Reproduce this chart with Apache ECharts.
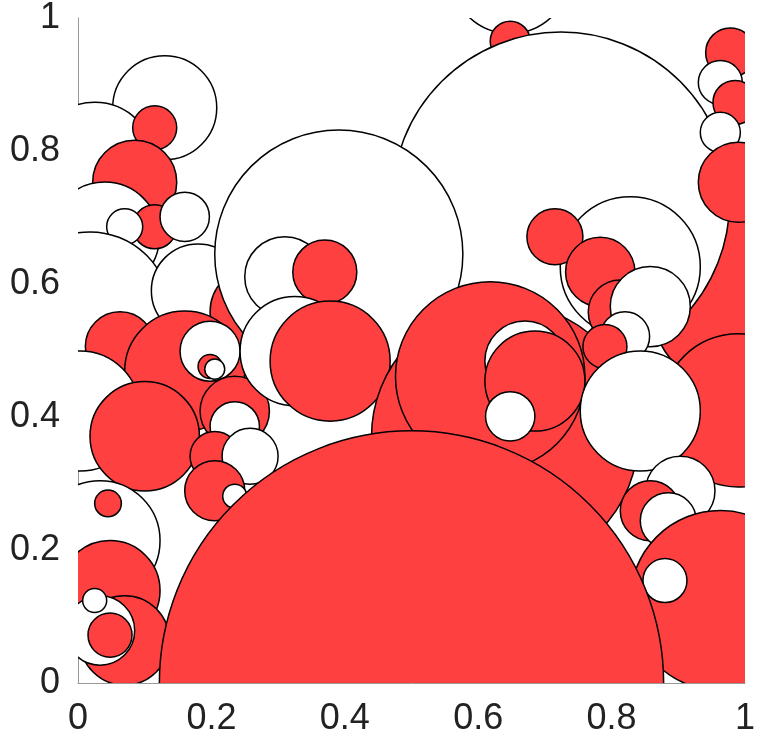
<!DOCTYPE html>
<html><head><meta charset="utf-8">
<script src="https://cdn.jsdelivr.net/npm/echarts@6/dist/echarts.min.js"></script>
<style>html,body{margin:0;padding:0;background:#fff}#c{width:769px;height:753px}</style>
</head><body><div id="c"></div>
<script>
const tickLabels = ['0','0.2','0.4','0.6','0.8','1'];
// circles in drawing order (back to front): centre x, centre y, radius, colour (1 = red, 0 = white)
const cx = [0.993,0.990,0.130,0.025,0.115,0.085,0.040,0.115,0.160,0.070,0.018,0.180,0.265,0.063,0.160,0.003,0.100,0.198,0.198,0.205,0.235,0.235,0.205,0.258,0.205,0.235,0.033,0.045,0.048,0.070,0.033,0.048,0.025,0.648,0.648,0.724,0.391,0.310,0.370,0.325,0.378,0.640,0.543,0.573,0.618,0.670,0.685,0.648,0.828,0.715,0.783,0.813,0.858,0.820,0.790,0.843,0.903,0.858,0.885,0.963,0.880,0.978,0.963,0.985,0.963,0.990,0.500];
const cy = [0.573,0.410,0.865,0.783,0.835,0.753,0.671,0.686,0.701,0.686,0.558,0.590,0.558,0.506,0.469,0.409,0.371,0.499,0.476,0.472,0.409,0.386,0.341,0.341,0.289,0.281,0.214,0.270,0.139,0.064,0.079,0.072,0.124,1.067,0.965,0.725,0.645,0.611,0.618,0.499,0.484,0.370,0.528,0.506,0.461,0.484,0.454,0.401,0.626,0.671,0.618,0.558,0.566,0.521,0.506,0.409,0.289,0.259,0.244,0.124,0.154,0.948,0.903,0.873,0.828,0.753,0.000];
const cr = [0.135,0.115,0.078,0.090,0.033,0.063,0.082,0.033,0.037,0.027,0.120,0.070,0.067,0.052,0.090,0.090,0.082,0.045,0.018,0.015,0.052,0.037,0.037,0.042,0.045,0.018,0.090,0.020,0.075,0.067,0.052,0.033,0.018,0.090,0.030,0.253,0.186,0.060,0.048,0.082,0.090,0.200,0.027,0.042,0.142,0.060,0.075,0.037,0.105,0.042,0.052,0.048,0.060,0.037,0.033,0.090,0.052,0.045,0.042,0.135,0.033,0.037,0.033,0.033,0.030,0.060,0.378];
const red = [1,1,0,0,1,1,0,1,0,0,0,0,1,1,1,0,1,0,1,0,1,0,1,0,1,0,0,1,1,1,0,1,0,0,1,0,0,0,1,0,1,1,1,0,1,0,1,0,0,1,1,1,0,0,1,0,0,1,0,1,0,1,0,1,0,1,1];

const data = cx.map((v,i)=>[v,cy[i],cr[i],red[i]]);
const chart = echarts.init(document.getElementById('c'));
const lab = {fontFamily:'Liberation Sans',fontSize:36,color:'#222',formatter:v=>tickLabels[Math.round(v*5)]};
chart.setOption({
  animation:false,
  grid:{left:78,right:24,top:15,bottom:70},
  xAxis:{type:'value',min:0,max:1,interval:0.2,axisLine:{lineStyle:{color:'#999'}},axisTick:{show:false},splitLine:{show:false},axisLabel:Object.assign({margin:18},lab)},
  yAxis:{type:'value',min:0,max:1,interval:0.2,axisLine:{show:true,lineStyle:{color:'#999'}},axisTick:{show:false},splitLine:{show:false},axisLabel:Object.assign({margin:18},lab)},
  series:[{type:'custom',clip:true,data:data,
    renderItem:(params,api)=>{
      const c=api.coord([api.value(0),api.value(1)]);
      const r=api.size([api.value(2),0])[0];
      return {type:'circle',shape:{cx:c[0],cy:c[1],r:r},style:{fill:api.value(3)?'#ff4040':'#ffffff',stroke:'#000',lineWidth:1.5}};
    }}]
});
</script></body></html>
